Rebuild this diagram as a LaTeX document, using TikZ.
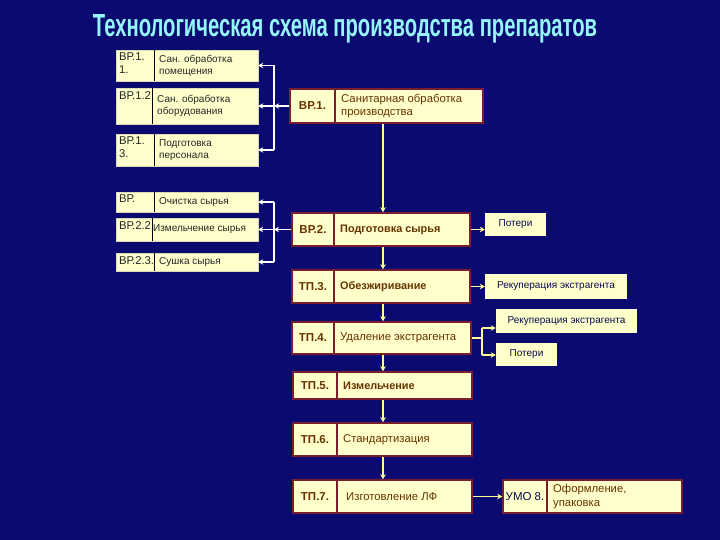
\documentclass[tikz,border=0pt]{standalone}
\usepackage{fontspec}
\setmainfont{Liberation Sans}
\usetikzlibrary{arrows.meta,calc}
\definecolor{bg}{RGB}{10,10,112}
\definecolor{cream}{RGB}{255,255,204}
\definecolor{maroon}{RGB}{120,30,45}
\definecolor{brownt}{RGB}{102,51,0}
\definecolor{flowy}{RGB}{255,255,150}
\definecolor{navyt}{RGB}{10,10,80}
\definecolor{titlec}{RGB}{150,245,250}
\newcommand{\mainstep}[8]{%
  \node[mainbox, minimum width={#4-#2}, minimum height={#5-#3}] (#1) at ({(#2+#4)/2},{(#3+#5)/2}) {};
  \draw[maindiv] (#6,#3) -- (#6,#5);
  \node[mainlbl] at ({(#2+#6)/2},{(#3+#5)/2}) {#7};
  \node[maintxt] at (#6+6,{(#3+#5)/2}) {#8};
}
\newcommand{\sidestep}[8]{%
  \node[sidebox, minimum width={#4-#2}, minimum height={#5-#3}] (#1) at ({(#2+#4)/2},{(#3+#5)/2}) {};
  \draw[sidediv] (#6,#3) -- (#6,#5);
  \node[sidelbl] at (#2+3,#3+3) {#7};
  \node[sidetxt] at (#6+5,{(#3+#5)/2}) {#8};
}
\tikzset{
  mainbox/.style={draw=maroon, line width=1.5pt, fill=cream, inner sep=0pt},
  maindiv/.style={draw=maroon, line width=1.5pt},
  mainlbl/.style={text=brownt, font=\fontsize{11.5}{13}\selectfont\bfseries, inner sep=0pt},
  maintxt/.style={text=brownt, font=\fontsize{11.3}{13.5}\selectfont, anchor=west, align=left, inner sep=0pt},
  sidebox/.style={draw=cream!70!gray, line width=0.4pt, fill=cream, inner sep=0pt},
  sidediv/.style={draw=black, line width=0.8pt},
  sidelbl/.style={text=black!85, font=\fontsize{11.3}{13}\selectfont, anchor=north west, align=left, inner sep=0pt},
  sidetxt/.style={text=black!85, font=\fontsize{10}{12}\selectfont, anchor=west, align=left, inner sep=0pt},
  outbox/.style={fill=cream, draw=none, inner sep=0pt, text=navyt, font=\fontsize{10}{11}\selectfont},
  flow/.style={draw=flowy, line width=1.5pt, -{Stealth[length=5pt,width=5.5pt]}},
  yline/.style={draw=flowy, line width=1.5pt},
  warrow/.style={draw=white, line width=1.5pt, -{Stealth[length=5pt,width=5.5pt]}},
  wline/.style={draw=white, line width=1.5pt},
  titlestyle/.style={text=titlec, inner sep=0pt, font=\bfseries, anchor=base}
}
\begin{document}
\begin{tikzpicture}[x=1pt,y=-1pt]
\fill[bg] (0,0) rectangle (720,540);
\useasboundingbox (0,0) rectangle (720,540);

\node[titlestyle] (title) at (345,37) {\resizebox{504pt}{22pt}{Технологическая схема производства препаратов}};

% left group 1
\sidestep{l11}{116}{50}{258}{81}{154}{ВР.1.\\1.}{Сан. обработка\\помещения}
\sidestep{l12}{116}{88}{258}{124}{152}{ВР.1.2}{Сан. обработка\\оборудования}
\sidestep{l13}{116}{134}{258}{166}{154}{ВР.1.\\3.}{Подготовка\\персонала}
% left group 2
\sidestep{l21}{116}{192}{258}{212}{154}{ВР.}{Очистка сырья}
\sidestep{l22}{116}{218}{258}{241}{152}{ВР.2.2}{\hspace*{-4pt}Измельчение сырья}
\sidestep{l23}{116}{253}{258}{271}{154}{ВР.2.3.}{Сушка сырья}

% main steps
\mainstep{bp1}{290}{89}{483}{123}{335}{ВР.1.}{Санитарная обработка\\производства}
\mainstep{bp2}{292}{213}{470}{246}{334}{ВР.2.}{\bfseries\fontsize{10.9}{13}\selectfont Подготовка сырья}
\mainstep{tp3}{292}{270}{470}{303}{334}{ТП.3.}{\bfseries\fontsize{10.9}{13}\selectfont Обезжиривание}
\mainstep{tp4}{292}{322}{471}{354}{334}{ТП.4.}{Удаление экстрагента}
\mainstep{tp5}{293}{372}{472}{399}{337}{ТП.5.}{\bfseries\fontsize{10.9}{13}\selectfont Измельчение}
\mainstep{tp6}{293}{423}{472}{456}{337}{ТП.6.}{Стандартизация}
\mainstep{tp7}{293}{480}{472}{513}{337}{ТП.7.}{\hspace*{3pt}Изготовление ЛФ}
\mainstep{umo}{503}{480}{682}{513}{547}{\mdseries\color{navyt}УМО 8.}{Оформление,\\упаковка}

% output boxes
\node[outbox, minimum width=61, minimum height=23] (p1) at (515.5,224.5) {Потери};
\node[outbox, minimum width=142, minimum height=25] (r1) at (556,286.5) {Рекуперация экстрагента};
\node[outbox, minimum width=141, minimum height=24] (r2) at (566.5,321) {Рекуперация экстрагента};
\node[outbox, minimum width=61, minimum height=23] (p2) at (526.5,354.5) {Потери};

% coordinates
\coordinate (fx) at (383,0);
\coordinate (brk) at (274,0);
\coordinate (fk) at (482,0);
\coordinate (f1) at (482,328);
\coordinate (f2) at (482,355);

% main flow
\draw[flow] (bp1.south -| fx) -- (bp2.north -| fx);
\draw[flow] (bp2.south -| fx) -- (tp3.north -| fx);
\draw[flow] (tp3.south -| fx) -- (tp4.north -| fx);
\draw[flow] (tp4.south -| fx) -- (tp5.north -| fx);
\draw[flow] (tp5.south -| fx) -- (tp6.north -| fx);
\draw[flow] (tp6.south -| fx) -- (tp7.north -| fx);
\draw[flow] (tp7.east |- umo.west) -- (umo.west);

% outputs
\draw[flow] (bp2.east) -- (p1.west |- bp2.east);
\draw[flow] (tp3.east) -- (r1.west |- tp3.east);
\draw[yline] (tp4.east) -- (tp4.east -| fk);
\draw[yline] (f1) -- (f2);
\draw[flow] (f1) -- (f1 -| r2.west);
\draw[flow] (f2) -- (f2 -| p2.west);

% left brackets
\draw[wline] (l11.east -| brk) -- (l13.east -| brk);
\draw[warrow] (bp1.west) -- (bp1.west -| brk);
\draw[warrow] (l11.east -| brk) -- (l11.east);
\draw[warrow] (l12.east -| brk) -- (l12.east);
\draw[warrow] (l13.east -| brk) -- (l13.east);

\draw[wline] (l21.east -| brk) -- (l23.east -| brk);
\draw[warrow] (bp2.west) -- (bp2.west -| brk);
\draw[warrow] (l21.east -| brk) -- (l21.east);
\draw[warrow] (l22.east -| brk) -- (l22.east);
\draw[warrow] (l23.east -| brk) -- (l23.east);
\end{tikzpicture}
\end{document}
